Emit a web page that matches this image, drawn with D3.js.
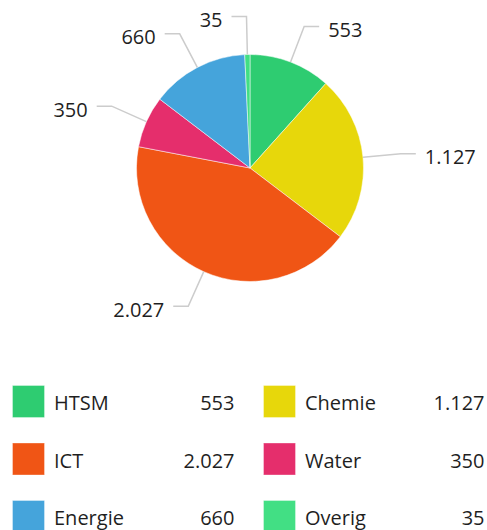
<!DOCTYPE html>
<html>
<head>
<meta charset="utf-8">
<script src="https://cdn.jsdelivr.net/npm/d3@7"></script>
<style>
  html, body { margin: 0; padding: 0; background: #fff; }
  svg { display: block; font-family: "Open Sans", sans-serif; }
</style>
</head>
<body>
<svg id="chart" width="487" height="530"></svg>
<script>
var sectors = ["HTSM", "Chemie", "ICT", "Water", "Energie", "Overig"];
var amounts = [553, 1127, 2027, 350, 660, 35];
var colors = ["#2ecc71", "#e7d70b", "#f05515", "#e52e6c", "#45a4db", "#42df84"];

var nl = d3.formatLocale({ decimal: ",", thousands: ".", grouping: [3], currency: ["€", ""] });
var fmt = nl.format(",d");

var svg = d3.select("#chart");
var cx = 250, cy = 168, r = 113.5;

var data = sectors.map((s, i) => ({ name: s, value: amounts[i], color: colors[i] }));

var pie = d3.pie().sort(null).value(d => d.value);
var arc = d3.arc().innerRadius(0).outerRadius(r);
var arcs = pie(data);

var g = svg.append("g").attr("transform", "translate(" + cx + "," + cy + ")");

g.selectAll("path.slice").data(arcs).enter().append("path")
  .attr("class", "slice")
  .attr("d", arc)
  .attr("fill", d => d.data.color)
  .attr("stroke", "#fff")
  .attr("stroke-width", 0.5);

// data labels with connectors
var outer = r + 38;
arcs.forEach(d => {
  var a = (d.startAngle + d.endAngle) / 2;
  var right = Math.sin(a) >= 0;
  var p0 = [Math.sin(a) * r, -Math.cos(a) * r];
  var p1 = [Math.sin(a) * outer, -Math.cos(a) * outer];
  var p2 = [p1[0] + (right ? 15 : -15), p1[1]];

  g.append("path")
    .attr("d", d3.line()([p0, p1, p2]))
    .attr("fill", "none")
    .attr("stroke", "#cccccc")
    .attr("stroke-width", 1.5);

  g.append("text")
    .attr("x", p2[0] + (right ? 9 : -9))
    .attr("y", p2[1] + 10.5)
    .attr("text-anchor", right ? "start" : "end")
    .attr("font-size", 20)
    .attr("fill", "#1f1f1f")
    .text(fmt(d.data.value));
});

// legend, two columns
var cols = [12, 263];
var valRight = [234.5, 484.5];
var rowY = [385, 442.5, 500];

var leg = svg.selectAll("g.legend").data(data).enter().append("g")
  .attr("class", "legend")
  .attr("transform", (d, i) => "translate(" + cols[i % 2] + "," + rowY[Math.floor(i / 2)] + ")");

leg.append("rect")
  .attr("x", 0.5).attr("y", 0.5)
  .attr("width", 32).attr("height", 32)
  .attr("fill", d => d.color)
  .attr("stroke", "#fff")
  .attr("stroke-opacity", 0.35)
  .attr("stroke-width", 1);

leg.append("text")
  .attr("x", 42)
  .attr("y", 25)
  .attr("font-size", 20)
  .attr("fill", "#1f1f1f")
  .text(d => d.name);

leg.append("text")
  .attr("x", (d, i) => valRight[i % 2] - cols[i % 2])
  .attr("y", 25)
  .attr("text-anchor", "end")
  .attr("font-size", 20)
  .attr("fill", "#1f1f1f")
  .text(d => fmt(d.value));
</script>
</body>
</html>
